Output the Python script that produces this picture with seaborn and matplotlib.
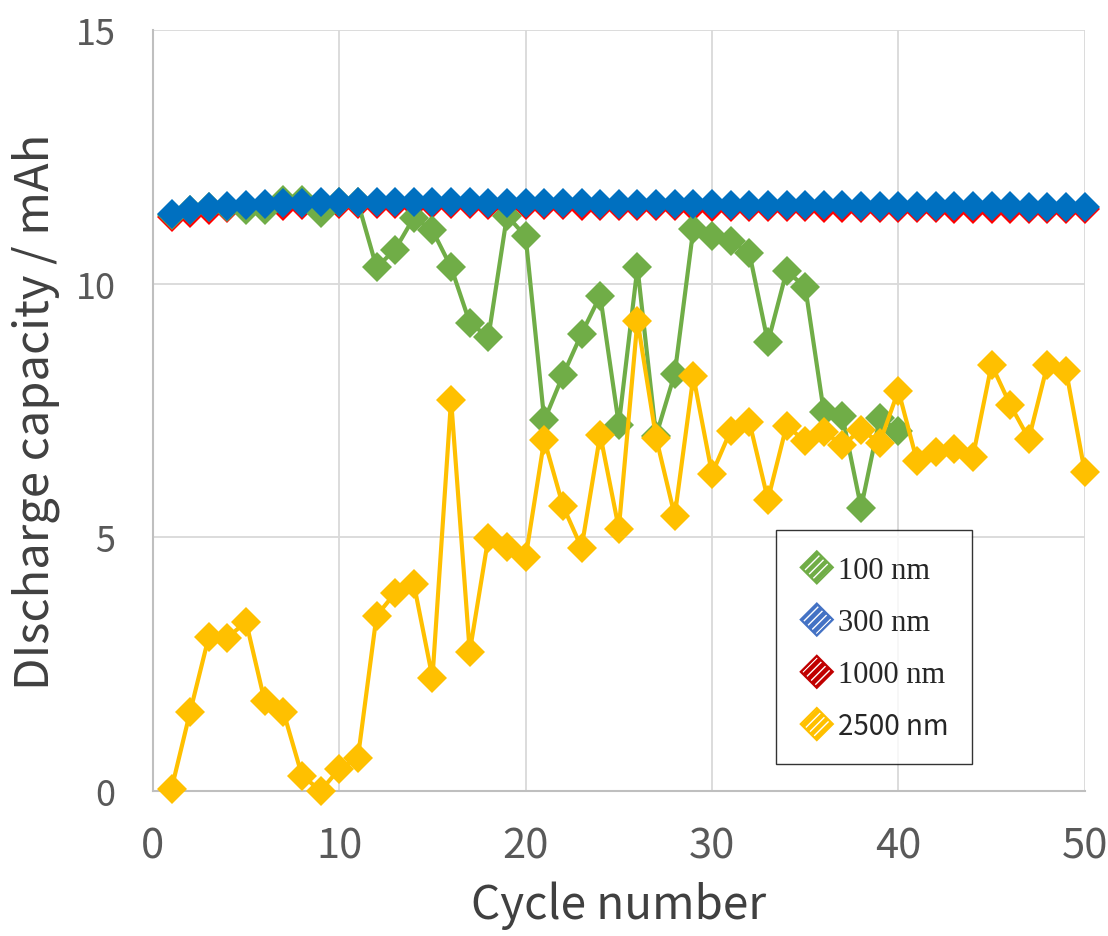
import numpy as np
import pandas as pd
import matplotlib
matplotlib.use("Agg")
import matplotlib.pyplot as plt
import seaborn as sns
from matplotlib.patches import Polygon
from matplotlib.legend_handler import HandlerBase

cycles = list(range(1, 51))

cap_100nm = [11.35, 11.45, 11.50, 11.50, 11.45, 11.45, 11.65, 11.65, 11.40, 11.60,
             11.60, 10.32, 10.67, 11.30, 11.05, 10.32, 9.23, 8.94, 11.34, 10.93,
             7.30, 8.19, 9.01, 9.76, 7.22, 10.32, 7.00, 8.22, 11.08, 10.93,
             10.83, 10.61, 8.84, 10.24, 9.94, 7.47, 7.38, 5.58, 7.34, 7.10]
cap_300nm = [11.38, 11.45, 11.50, 11.53, 11.55, 11.56, 11.58, 11.59, 11.60, 11.61,
             11.61, 11.61, 11.61, 11.60, 11.60, 11.60, 11.60, 11.59, 11.59, 11.59,
             11.58, 11.58, 11.58, 11.57, 11.57, 11.57, 11.56, 11.56, 11.56, 11.56,
             11.55, 11.55, 11.55, 11.54, 11.54, 11.54, 11.54, 11.53, 11.53, 11.53,
             11.53, 11.52, 11.52, 11.52, 11.52, 11.52, 11.51, 11.51, 11.51, 11.51]
cap_1000nm = [11.32, 11.40, 11.45, 11.48, 11.50, 11.51, 11.53, 11.55, 11.56, 11.57,
              11.57, 11.57, 11.57, 11.56, 11.56, 11.56, 11.56, 11.55, 11.55, 11.55,
              11.54, 11.54, 11.53, 11.53, 11.53, 11.52, 11.52, 11.52, 11.51, 11.51,
              11.51, 11.50, 11.50, 11.50, 11.50, 11.49, 11.49, 11.49, 11.48, 11.48,
              11.48, 11.48, 11.47, 11.47, 11.47, 11.46, 11.46, 11.46, 11.46, 11.46]
cap_2500nm = [0.04, 1.56, 3.04, 3.02, 3.33, 1.76, 1.56, 0.30, 0.00, 0.43,
              0.65, 3.45, 3.90, 4.08, 2.23, 7.71, 2.74, 4.99, 4.81, 4.60,
              6.92, 5.62, 4.79, 7.02, 5.17, 9.27, 6.96, 5.42, 8.17, 6.25,
              7.10, 7.28, 5.74, 7.20, 6.89, 7.08, 6.81, 7.12, 6.86, 7.89,
              6.50, 6.68, 6.73, 6.59, 8.40, 7.61, 6.94, 8.40, 8.28, 6.29]

labels = ["100 nm", "300 nm", "1000 nm", "2500 nm"]
colors = {"100 nm": "#70AD47", "300 nm": "#0070C0", "1000 nm": "#FF0000", "2500 nm": "#FFC000"}
legend_colors = {"100 nm": "#70AD47", "300 nm": "#4472C4", "1000 nm": "#C00000", "2500 nm": "#FFC000"}

series = {"100 nm": cap_100nm, "300 nm": cap_300nm, "1000 nm": cap_1000nm, "2500 nm": cap_2500nm}
frames = []
for lab in labels:
    vals = series[lab]
    frames.append(pd.DataFrame({"cycle": cycles[:len(vals)], "cap": vals, "size": lab}))
df = pd.concat(frames, ignore_index=True)

sns.set_theme(style="white")
plt.rcParams['font.family'] = ['Noto Sans CJK JP', 'DejaVu Sans']

fig = plt.figure(figsize=(11.08, 9.37), dpi=100)
ax = fig.add_axes([0.138, 0.155, 0.841, 0.812])

zorders = {"1000 nm": 2, "100 nm": 3, "2500 nm": 4, "300 nm": 5}
for lab in ["1000 nm", "100 nm", "2500 nm", "300 nm"]:
    sub = df[df["size"] == lab]
    sns.lineplot(data=sub, x="cycle", y="cap", ax=ax, color=colors[lab],
                 marker="D", markersize=15, markeredgewidth=0, linewidth=3.0,
                 zorder=zorders[lab], legend=False, clip_on=False)

ax.set_xlim(0, 50)
ax.set_ylim(0, 15)
ax.set_xticks([0, 10, 20, 30, 40, 50])
ax.set_yticks([0, 5, 10, 15])
ax.grid(True, color="#d9d9d9", linewidth=1.3)
ax.set_axisbelow(True)
for s in ["top", "right"]:
    ax.spines[s].set_visible(False)
for s in ["left", "bottom"]:
    ax.spines[s].set_color("#bfbfbf")
    ax.spines[s].set_linewidth(1.5)
ax.tick_params(axis="y", labelsize=26, colors="#595959", length=0, pad=27)
ax.tick_params(axis="x", labelsize=30, colors="#595959", length=0, pad=25)
ax.set_xlabel("Cycle number", fontsize=33, color="#404040", labelpad=10)
ax.set_ylabel("DIscharge capacity / mAh", fontsize=34, color="#404040", labelpad=11)


class HatchDiamond(HandlerBase):
    def create_artists(self, legend, orig_handle, xdescent, ydescent, width, height, fontsize, trans):
        c = orig_handle.get_facecolor()
        cx = width / 2 - xdescent
        cy = height / 2 - ydescent
        r = 11.5
        pts = [[cx - r, cy], [cx, cy + r], [cx + r, cy], [cx, cy - r]]
        p1 = Polygon(pts, closed=True, facecolor=c, edgecolor="white", hatch="////", linewidth=0, transform=trans)
        p2 = Polygon(pts, closed=True, facecolor="none", edgecolor=c, linewidth=1.6, transform=trans)
        return [p1, p2]


handles = [Polygon([[0, 0], [1, 0], [1, 1]], facecolor=legend_colors[l]) for l in labels]
leg = ax.legend(handles, labels, handler_map={Polygon: HatchDiamond()},
                loc="upper left", bbox_to_anchor=(0.669, 0.343), frameon=True,
                prop={"family": ["Liberation Serif"], "size": 22},
                handlelength=1.15, handleheight=1.1, handletextpad=0.12,
                labelspacing=0.66, borderpad=0.75, borderaxespad=0, fancybox=False)
leg.get_frame().set_edgecolor("#000000")
leg.get_frame().set_linewidth(1.0)
leg.set_zorder(10)
leg.texts[3].set_family(["Noto Sans CJK JP", "DejaVu Sans"])
leg.texts[3].set_fontsize(20)

fig.savefig("out.png", dpi=100, facecolor="white")
